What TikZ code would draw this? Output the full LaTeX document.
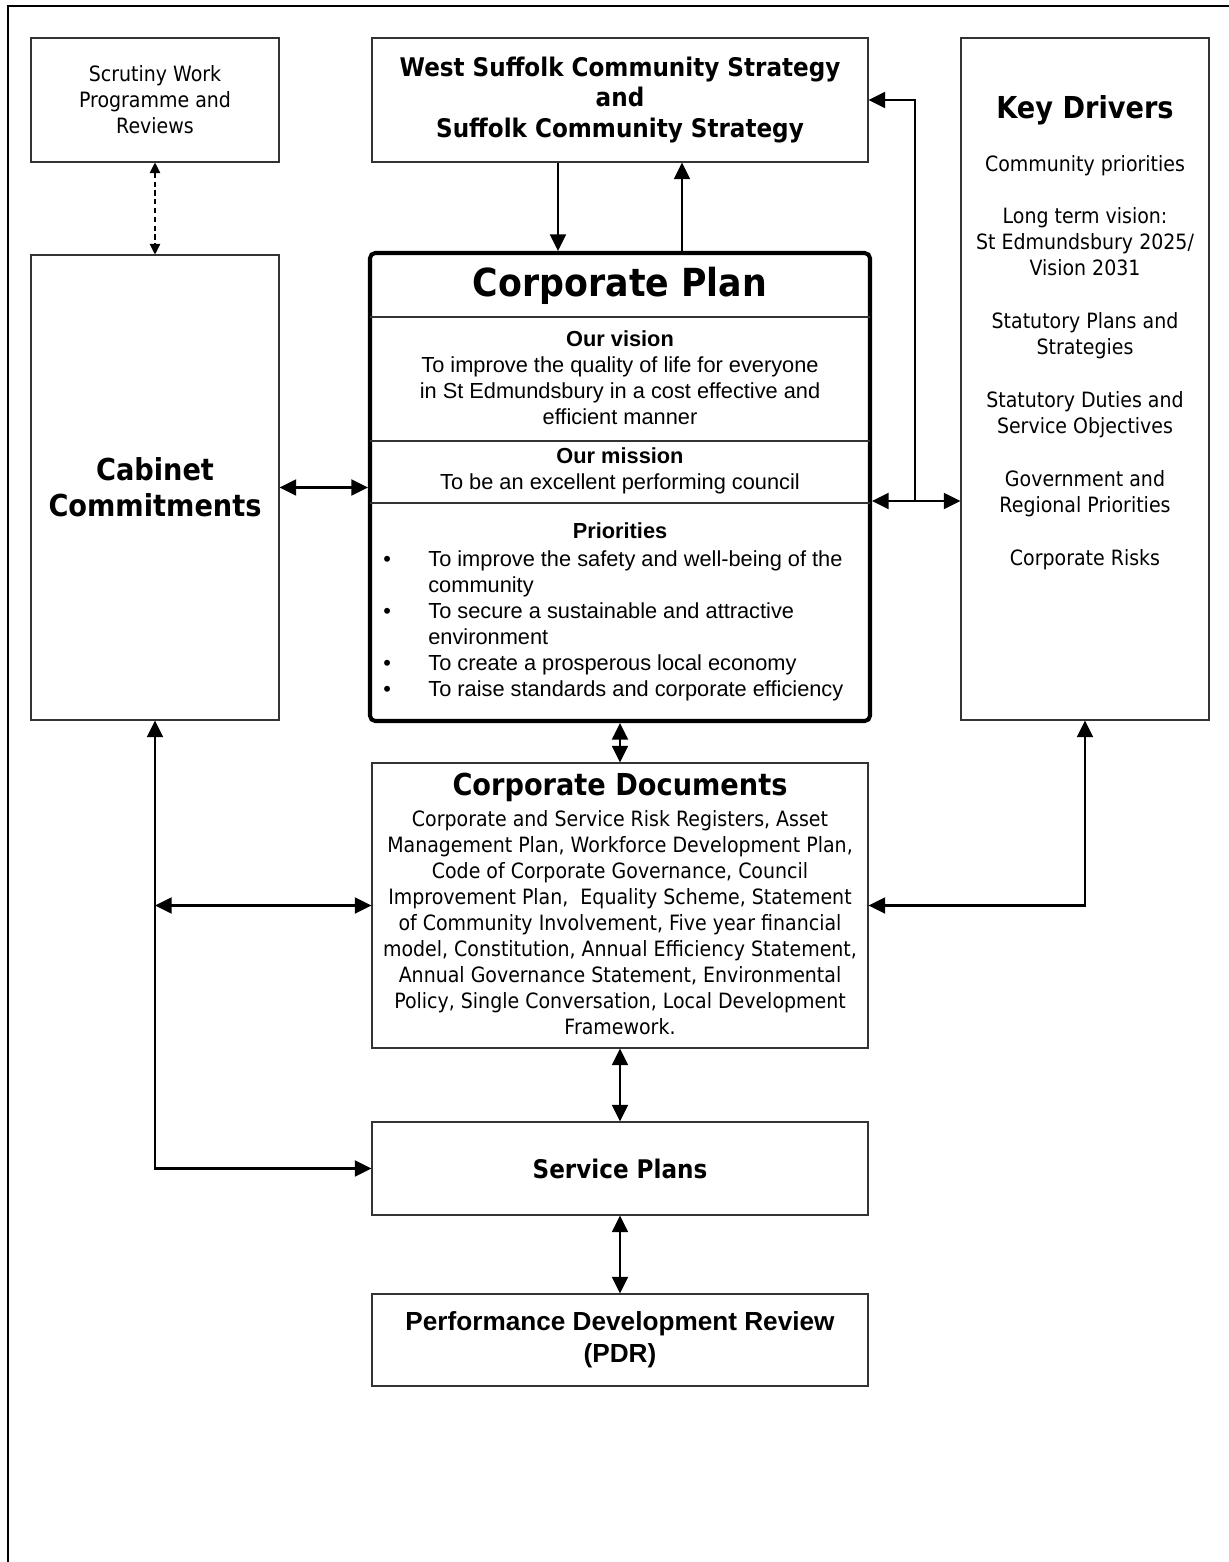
\documentclass[tikz,border=0pt]{standalone}
\usepackage{fontspec}
\setmainfont{DejaVu Sans}[FakeStretch=0.9]
\newfontfamily\arialfont{Liberation Sans}
\usetikzlibrary{arrows.meta, positioning, calc}

% one pixel of the layout
\newdimen\px \px=0.02cm

\newcommand{\fbody}{\fontsize{12}{14.8}\selectfont}
\newcommand{\fhead}{\bfseries\fontsize{17.2}{20.5}\selectfont}
\newcommand{\fsub}{\bfseries\fontsize{14.6}{17.6}\selectfont}
\newcommand{\ftitle}{\bfseries\fontsize{22}{26}\selectfont}
\newcommand{\farial}{\arialfont\fontsize{12.4}{14.8}\selectfont}
\newcommand{\farialb}{\arialfont\bfseries\fontsize{14.9}{18.2}\selectfont}

\tikzset{
  box/.style={draw=black!80, line width=0.6pt, inner sep=0pt, align=center},
  divider/.style={draw=black!80, line width=0.6pt},
  arr/.style={-{Triangle[length=9.5pt,width=9pt]}, line width=1.5pt},
  dbl/.style={{Triangle[length=9.5pt,width=9pt]}-{Triangle[length=9.5pt,width=9pt]}, line width=1.5pt},
  dashdbl/.style={{Triangle[length=6pt,width=6pt]}-{Triangle[length=6pt,width=6pt]}, line width=0.6pt, dash pattern=on 3pt off 2pt}
}

\begin{document}
\begin{tikzpicture}[x=0.02cm, y=-0.02cm]
  \useasboundingbox (0,0) rectangle (1229,1562);
  % Page frame
  \draw[line width=1.1pt] (8,1562) -- (8,6) -- (1229,6);

  % --- Top row ---
  \node[box, font=\fbody, minimum width=248\px, minimum height=124\px] (scrutiny) at (155,100)
    {Scrutiny Work\\Programme and\\Reviews};
  \node[box, font=\fsub, minimum width=496\px, minimum height=124\px] (wsc) at (620,100)
    {West Suffolk Community Strategy\\and\\Suffolk Community Strategy};

  % --- Side columns ---
  \node[box, font=\fhead, minimum width=248\px, minimum height=465\px] (cabinet) at (155,487.5)
    {Cabinet\\Commitments};
  \node[box, minimum width=248\px, minimum height=682\px] (drivers) at (1085,379) {};
  \node[font=\fhead] (drvtitle) at (1085,110) {Key Drivers};
  \node[font=\fbody, align=center] (drvlist) at (1085,362.5)
    {Community priorities\\[15.3pt]
     Long term vision:\\St Edmundsbury 2025/\\Vision 2031\\[15.3pt]
     Statutory Plans and\\Strategies\\[15.3pt]
     Statutory Duties and\\Service Objectives\\[15.3pt]
     Government and\\Regional Priorities\\[15.3pt]
     Corporate Risks};

  % --- Corporate Plan ---
  \node[draw, line width=2.3pt, rounded corners=3pt, minimum width=500\px, minimum height=468\px] (cplan) at (620,487) {};
  \draw[divider] (370,317) -- (870,317);
  \draw[divider] (370,441) -- (870,441);
  \draw[divider] (370,503) -- (870,503);
  \node[font=\ftitle] (cptitle) at (620,286) {Corporate Plan};
  \node[font=\farial, align=center] (cpvision) at (620,378)
    {\textbf{Our vision}\\To improve the quality of life for everyone\\in St Edmundsbury in a cost effective and\\efficient manner};
  \node[font=\farial, align=center] (cpmission) at (620,471)
    {\textbf{Our mission}\\To be an excellent performing council};
  \node[font=\farial\bfseries] (prtitle) at (620,531) {Priorities};
  \node[font=\farial, inner sep=0pt, anchor=north west] (prlist) at (383,548)
    {\begin{tabular}{@{}p{45\px}@{}p{440\px}@{}}
     \textbullet & To improve the safety and well-being of the\newline community\\
     \textbullet & To secure a sustainable and attractive\newline environment\\
     \textbullet & To create a prosperous local economy\\
     \textbullet & To raise standards and corporate efficiency
     \end{tabular}};

  % --- Lower chain ---
  \node[box, minimum width=496\px, minimum height=285\px] (cdocs) at (620,905.5) {};
  \node[font=\fhead] (cdtitle) at (620,787) {Corporate Documents};
  \node[font=\fbody, align=center] (cdtext) at (620,922.5)
    {Corporate and Service Risk Registers, Asset\\
     Management Plan, Workforce Development Plan,\\
     Code of Corporate Governance, Council\\
     Improvement Plan,\ \ Equality Scheme, Statement\\
     of Community Involvement, Five year financial\\
     model, Constitution, Annual Efficiency Statement,\\
     Annual Governance Statement, Environmental\\
     Policy, Single Conversation, Local Development\\
     Framework.};
  \node[box, font=\fsub, minimum width=496\px, minimum height=93\px] (service) at (620,1168.5) {Service Plans};
  \node[box, font=\farialb, minimum width=496\px, minimum height=92\px] (pdr) at (620,1340)
    {Performance Development Review\\(PDR)};

  % --- Connectors ---
  \draw[dashdbl] (scrutiny) -- (cabinet);
  \draw[arr] ([xshift=-62\px]wsc.south) -- ([xshift=-62\px]cplan.north);
  \draw[arr] ([xshift=62\px]cplan.north) -- ([xshift=62\px]wsc.south);
  \coordinate (bus) at (915,501);
  \draw[dbl] (cplan.east |- bus) -- (drivers.west |- bus);
  \draw[arr] (bus) |- (wsc.east);
  \draw[dbl] (cabinet.east) -- (cplan.west |- cabinet.east);
  \draw[dbl] (cplan.south) -- (cdocs.north);
  \draw[dbl] (cdocs.south) -- (service.north);
  \draw[dbl] (service.south) -- (pdr.north);
  \draw[dbl] (service.west) -| (cabinet.south);
  \draw[dbl] (cdocs.west) -- (cdocs.west -| cabinet.south);
  \draw[dbl] (cdocs.east) -| (drivers.south);
\end{tikzpicture}
\end{document}
